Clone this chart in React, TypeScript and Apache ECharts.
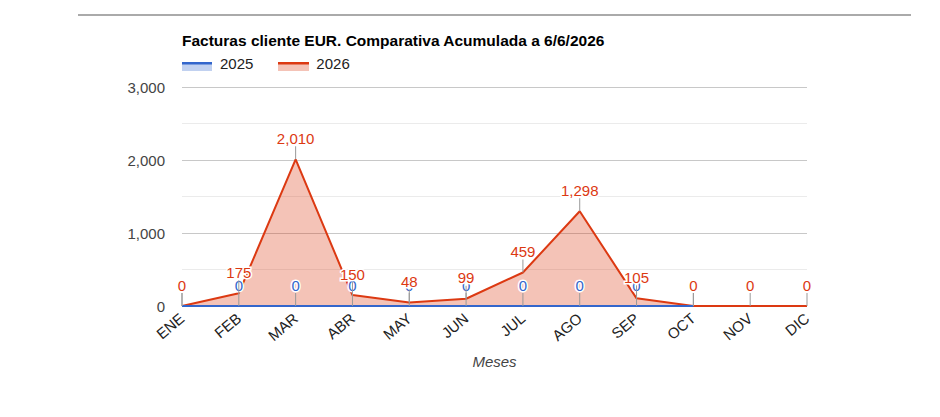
import React, { useEffect, useRef } from "react";
import * as echarts from "echarts";

const months = ["ENE", "FEB", "MAR", "ABR", "MAY", "JUN", "JUL", "AGO", "SEP", "OCT", "NOV", "DIC"];
const values2025: (number | null)[] = [0, 0, 0, 0, 0, 0, 0, 0, 0, 0, null, null];
const values2026: number[] = [0, 175, 2010, 150, 48, 99, 459, 1298, 105, 0, 0, 0];
const yTicks = { min: 0, max: 3000, interval: 1000 };

const BLUE = "#3366cc";
const RED = "#dc3912";
const FONT = "'Liberation Sans', Arial, sans-serif";

function annotationSeries(name: string, values: (number | null)[], color: string, z: number) {
  const data = values
    .map((v, i) => (v === null ? null : [i, v]))
    .filter((d) => d !== null);
  return {
    type: "custom",
    name: name + "-ann",
    z,
    silent: true,
    data,
    renderItem: (params: any, api: any) => {
      const idx = api.value(0);
      const val = api.value(1);
      const pt = api.coord([idx, val]);
      return {
        type: "group",
        children: [
          {
            type: "line",
            shape: { x1: pt[0], y1: pt[1], x2: pt[0], y2: pt[1] - 13 },
            style: { stroke: "#999999", lineWidth: 1 },
          },
          {
            type: "text",
            x: pt[0],
            y: pt[1] - 21,
            style: {
              text: Number(val).toLocaleString("en-US"),
              fill: color,
              stroke: "#ffffff",
              lineWidth: 3,
              font: "15px " + FONT,
              align: "center",
              verticalAlign: "middle",
            },
          },
        ],
      };
    },
  };
}

export default function App() {
  const ref = useRef<HTMLDivElement>(null);
  useEffect(() => {
    if (!ref.current) return;
    const chart = echarts.init(ref.current, null, { renderer: "svg" });
    chart.setOption({
      animation: false,
      backgroundColor: "#ffffff",
      title: {
        text: "Facturas cliente EUR. Comparativa Acumulada a 6/6/2026",
        left: 182,
        top: 32,
        padding: 0,
        textStyle: { fontFamily: FONT, fontSize: 15.5, fontWeight: "bold", color: "#000000" },
      },
      legend: {
        left: 182,
        top: 56,
        padding: 0,
        icon: "rect",
        itemWidth: 30,
        itemHeight: 9,
        itemGap: 25,
        textStyle: { fontFamily: FONT, fontSize: 15, color: "#222222", padding: [0, 0, 0, 3] },
        data: [
          { name: "2025", itemStyle: { color: "rgba(0,0,0,0)" } },
          { name: "2026", itemStyle: { color: "rgba(0,0,0,0)" } },
        ],
      },
      grid: { left: 182, right: 133, top: 87, bottom: 111, containLabel: false },
      xAxis: {
        type: "category",
        data: months,
        boundaryGap: false,
        axisLine: { show: false },
        axisTick: { show: false },
        axisLabel: {
          rotate: 40,
          margin: 10,
          fontFamily: FONT,
          fontSize: 15,
          color: "#222222",
        },
        name: "Meses",
        nameLocation: "middle",
        nameGap: 48,
        nameTextStyle: { fontFamily: FONT, fontSize: 15, fontStyle: "italic", color: "#444444" },
      },
      yAxis: {
        type: "value",
        min: yTicks.min,
        max: yTicks.max,
        interval: yTicks.interval,
        axisLine: { show: false },
        axisTick: { show: false },
        axisLabel: {
          margin: 17,
          fontFamily: FONT,
          fontSize: 15,
          color: "#444444",
          formatter: (v: number) => v.toLocaleString("en-US"),
        },
        splitLine: { lineStyle: { color: "#c8c8c8", width: 1 } },
        minorTick: { show: false, splitNumber: 2 },
        minorSplitLine: { show: true, lineStyle: { color: "#ebebeb", width: 1 } },
      },
      series: [
        {
          name: "2026",
          type: "line",
          data: values2026,
          symbol: "none",
          z: 2,
          lineStyle: { color: RED, width: 2 },
          itemStyle: { color: RED },
          areaStyle: { color: RED, opacity: 0.3 },
        },
        {
          name: "2025",
          type: "line",
          data: values2025,
          symbol: "none",
          z: 3,
          lineStyle: { color: BLUE, width: 2 },
          itemStyle: { color: BLUE },
          areaStyle: { color: BLUE, opacity: 0.3 },
        },
        annotationSeries("2025", values2025, BLUE, 4),
        annotationSeries("2026", values2026, RED, 5),
      ],
      graphic: [
        {
          type: "line",
          shape: { x1: 78, y1: 15, x2: 911, y2: 15 },
          style: { stroke: "#aaaaaa", lineWidth: 2 },
        },
        { type: "rect", shape: { x: 182, y: 62, width: 30, height: 9 }, style: { fill: "rgba(51,102,204,0.3)" } },
        { type: "rect", shape: { x: 182, y: 62, width: 30, height: 2.5 }, style: { fill: BLUE } },
        { type: "rect", shape: { x: 278, y: 62, width: 31, height: 9 }, style: { fill: "rgba(220,57,18,0.3)" } },
        { type: "rect", shape: { x: 278, y: 62, width: 31, height: 2.5 }, style: { fill: RED } },
      ],
    });
    return () => chart.dispose();
  }, []);
  return (
    <div
      ref={ref}
      style={{ position: "fixed", left: 0, top: 0, width: 940, height: 417 }}
    />
  );
}
